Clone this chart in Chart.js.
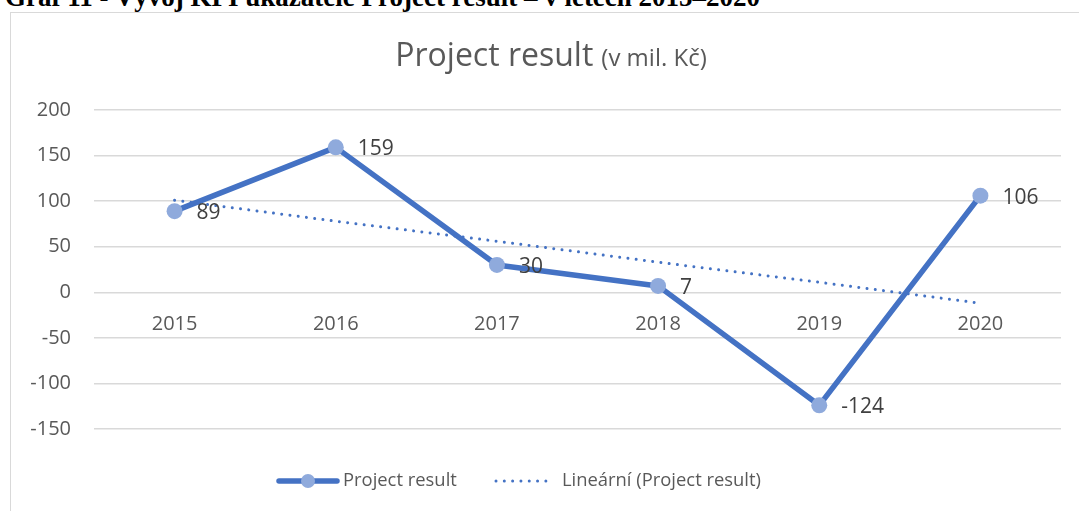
<!DOCTYPE html>
<html>
<head>
<meta charset="utf-8">
<script src="https://cdn.jsdelivr.net/npm/chart.js@4.4.1/dist/chart.umd.min.js"></script>
<style>
  html, body { margin: 0; padding: 0; background: #fff; overflow: hidden; }
  body { width: 1079px; height: 511px; position: relative; }
  #hdr { position: absolute; left: 5px; top: -16px; font: bold 27px/27px "Liberation Serif", "Times New Roman", serif; color: #000; white-space: nowrap; }
  #frame { position: absolute; left: 10px; top: 12px; width: 1100px; height: 520px; border-left: 1.5px solid #d9d9d9; border-top: 1.5px solid #d9d9d9; box-sizing: border-box; }
  #wrap { position: absolute; left: 0; top: 0; width: 1079px; height: 511px; }
</style>
</head>
<body>
<div id="hdr">Graf 11 - Vývoj KPI ukazatele Project result – v letech 2015–2020</div>
<div id="frame"></div>
<div id="wrap"><canvas id="c" width="1079" height="511"></canvas></div>
<script>
const categories = ['2015', '2016', '2017', '2018', '2019', '2020'];
const projectResult = [89, 159, 30, 7, -124, 106];
const trendValues = [101, 78, 56, 33, 11, -12];
const yTicks = [-150, -100, -50, 0, 50, 100, 150, 200];
const titleMain = 'Project result';
const titleUnit = '(v mil. Kč)';
const seriesLabel = 'Project result';
const trendLabel = 'Lineární (Project result)';

const FONT = '"Open Sans", sans-serif';
const BLUE = '#4472C4';
const MARKER = '#8FAADC';

const titlePlugin = {
  id: 'titlePlugin',
  afterDraw(chart) {
    const ctx = chart.ctx;
    ctx.save();
    ctx.fillStyle = '#595959';
    ctx.textBaseline = 'alphabetic';
    ctx.font = '32px ' + FONT;
    const w1 = ctx.measureText(titleMain).width;
    ctx.font = '24px ' + FONT;
    const w2 = ctx.measureText(titleUnit).width;
    const gap = 8;
    const x0 = 551 - (w1 + gap + w2) / 2;
    ctx.textAlign = 'left';
    ctx.font = '32px ' + FONT;
    ctx.fillText(titleMain, x0, 66);
    ctx.font = '24px ' + FONT;
    ctx.fillText(titleUnit, x0 + w1 + gap, 66);
    ctx.restore();
  }
};

const labelPlugin = {
  id: 'labelPlugin',
  afterDatasetsDraw(chart) {
    const ctx = chart.ctx;
    const meta = chart.getDatasetMeta(0);
    ctx.save();
    ctx.font = '21px ' + FONT;
    ctx.fillStyle = '#404040';
    ctx.textAlign = 'left';
    ctx.textBaseline = 'middle';
    meta.data.forEach((pt, i) => {
      ctx.fillText(String(projectResult[i]), pt.x + 22, pt.y + 2);
    });
    ctx.restore();
  }
};

const legendPlugin = {
  id: 'legendPlugin',
  afterDraw(chart) {
    const ctx = chart.ctx;
    const y = 481;
    ctx.save();
    ctx.strokeStyle = BLUE;
    ctx.lineCap = 'round';
    ctx.lineWidth = 5.5;
    ctx.beginPath(); ctx.moveTo(279, y); ctx.lineTo(337, y); ctx.stroke();
    ctx.fillStyle = MARKER;
    ctx.beginPath(); ctx.arc(308, y, 7, 0, Math.PI * 2); ctx.fill();
    ctx.lineWidth = 3;
    ctx.setLineDash([0.01, 8.3]);
    ctx.beginPath(); ctx.moveTo(496, y); ctx.lineTo(553, y); ctx.stroke();
    ctx.setLineDash([]);
    ctx.font = '18.4px ' + FONT;
    ctx.fillStyle = '#595959';
    ctx.textBaseline = 'middle';
    ctx.textAlign = 'left';
    ctx.fillText(seriesLabel, 343, y);
    ctx.fillText(trendLabel, 562, y);
    ctx.restore();
  }
};

new Chart(document.getElementById('c'), {
  type: 'line',
  data: {
    labels: categories,
    datasets: [
      {
        label: seriesLabel,
        data: projectResult,
        borderColor: BLUE,
        borderWidth: 5.5,
        pointRadius: 8,
        pointBackgroundColor: MARKER,
        pointBorderColor: MARKER,
        pointBorderWidth: 0,
        tension: 0,
        borderJoinStyle: 'round'
      },
      {
        label: trendLabel,
        data: trendValues,
        borderColor: BLUE,
        borderWidth: 3,
        borderDash: [0.01, 8.3],
        borderCapStyle: 'round',
        pointRadius: 0,
        tension: 0
      }
    ]
  },
  options: {
    responsive: false,
    animation: false,
    devicePixelRatio: 1,
    layout: { padding: { top: 110, right: 18, bottom: 82, left: 10 } },
    plugins: { legend: { display: false }, title: { display: false }, tooltip: { enabled: false } },
    scales: {
      x: {
        type: 'category',
        offset: true,
        position: { y: 0 },
        grid: { display: false, drawTicks: false },
        border: { display: false },
        ticks: { font: { family: FONT, size: 20 }, color: '#595959', padding: 20, maxRotation: 0 }
      },
      y: {
        min: -150,
        max: 200,
        afterFit(scale) { scale.width = 84; },
        afterBuildTicks(scale) { scale.ticks = yTicks.map(v => ({ value: v })); },
        grid: { color: '#d9d9d9', lineWidth: 1.5, drawTicks: false },
        border: { display: false },
        ticks: { font: { family: FONT, size: 20 }, color: '#595959', padding: 23 }
      }
    }
  },
  plugins: [titlePlugin, labelPlugin, legendPlugin]
});
</script>
</body>
</html>
